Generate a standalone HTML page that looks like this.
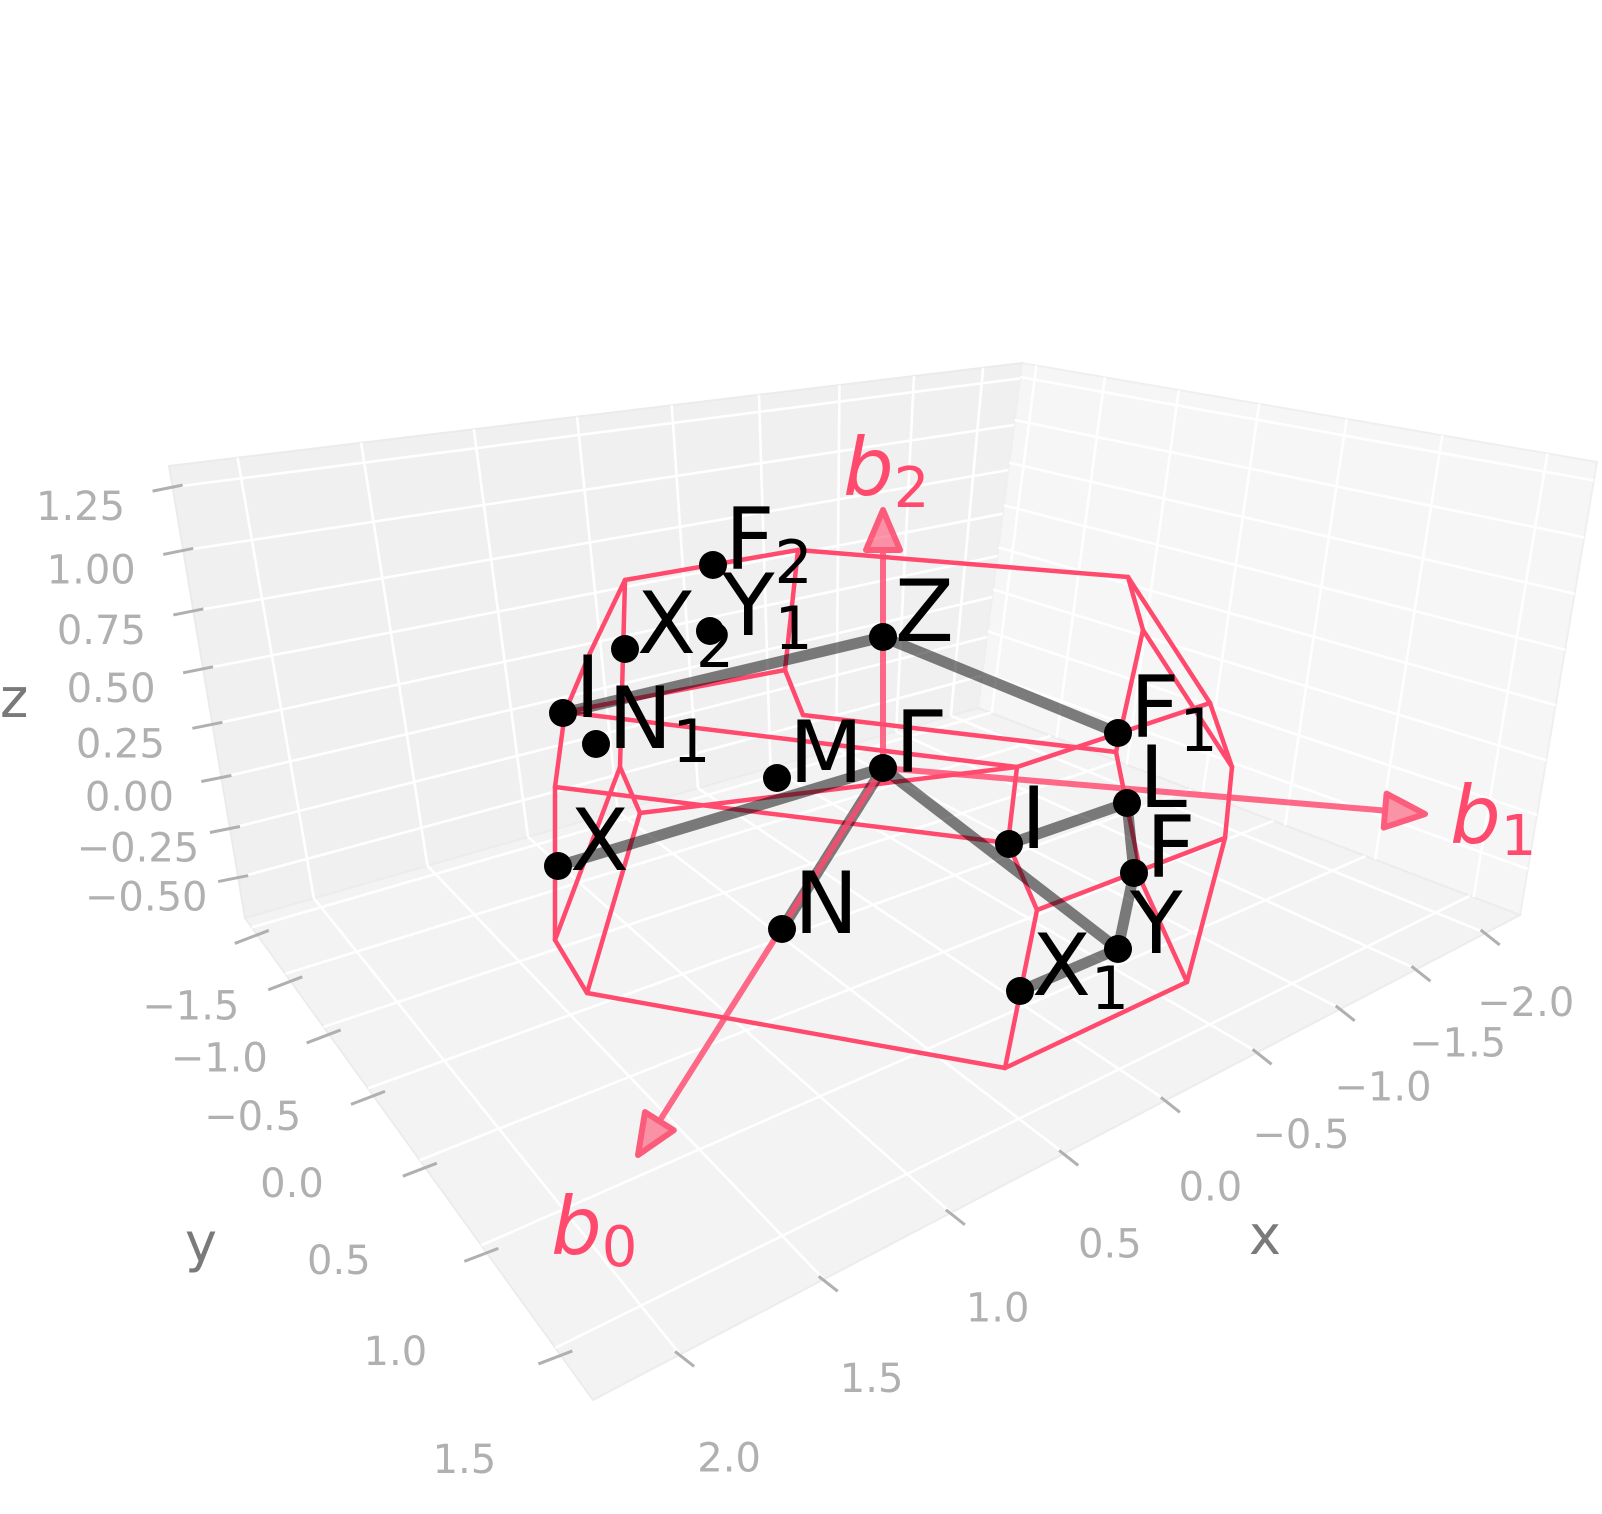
<!DOCTYPE html>
<html>
<head>
<meta charset="utf-8">
<style>
  html,body{margin:0;padding:0;background:#fff;}
  svg{display:block;}
  text{font-family:"DejaVu Sans","Liberation Sans",sans-serif;}
</style>
</head>
<body>
<svg id="chart" width="1602" height="1514" viewBox="0 0 1602 1514" xmlns="http://www.w3.org/2000/svg">
  <rect x="0" y="0" width="1602" height="1514" fill="#ffffff"/>
  <g id="panes"></g>
  <g id="grid"></g>
  <g id="ticks"></g>
  <g id="poly"></g>
  <g id="path"></g>
  <g id="arrows"></g>
  <g id="points"></g>
  <text x="1249" y="1254" font-size="54" fill="#7a7a7a">x</text>
  <text x="185" y="1261" font-size="54" fill="#7a7a7a">y</text>
  <text x="0" y="717" font-size="54" fill="#7a7a7a">z</text>
</svg>
<script>
// ---- axis data ----
const xTicks = [-2.0, -1.5, -1.0, -0.5, 0.0, 0.5, 1.0, 1.5, 2.0];
const yTicks = [-1.5, -1.0, -0.5, 0.0, 0.5, 1.0, 1.5];
const zTicks = [-0.5, -0.25, 0.0, 0.25, 0.5, 0.75, 1.0, 1.25];
const xLabels = ["\u22122.0","\u22121.5","\u22121.0","\u22120.5","0.0","0.5","1.0","1.5","2.0"];
const yLabels = ["\u22121.5","\u22121.0","\u22120.5","0.0","0.5","1.0","1.5"];
const zLabels = ["\u22120.50","\u22120.25","0.00","0.25","0.50","0.75","1.00","1.25"];
const xRange = [-2.27, 2.27];
const yRange = [-1.61, 1.72];
const zRange = [-0.714, 1.331];

// ---- projected (view-plane) data: units of the picture plane, origin at Gamma ----
const pointNames = ["Γ","Z","M","X","N","I","N","X","Y","F","F","L","I","F","Y","X"];
const pointSubs  = ["","","","","","","1","2","1","2","1","","","","","1"];
const pointU = [0, 0, -1.06, -3.25, -1.01, -3.20, -2.87, -2.58, -1.73, -1.70, 2.35, 2.44, 1.26, 2.51, 2.35, 1.37];
const pointV = [0, 1.31, -0.10, -0.98, -1.61, 0.55, 0.24, 1.19, 1.37, 2.03, 0.35, -0.35, -0.76, -1.05, -1.81, -2.23];

const vertU = [-2.58,-0.85,2.45,-2.93,-3.18,-3.28,-2.63,-2.43,-3.28,-2.96,-0.98,-0.80,2.60,3.27,3.49,3.42,3.04,1.22,1.34,1.25,1.54,2.33,2.60];
const vertV = [1.88,2.18,1.91,1.15,0.56,-0.19,0.01,-0.45,-1.72,-2.25,0.98,0.53,1.38,0.65,0.01,-0.70,-2.14,-3.00,0.01,-0.75,-1.42,0.16,-1.17];
const edgeA = [0,1,2,2,12,13,14,15,16,13,18,19,20,20,12,21,22,11,4,7,5,0,3,4,0,6,6,7,5,8,9,1,10,4];
const edgeB = [1,2,12,13,14,14,15,16,17,18,19,20,15,17,21,22,16,21,18,18,19,3,4,5,6,7,8,9,8,9,17,10,11,10];

const pathA = [5,1,3,0,0,14,14,13,11];
const pathB = [1,10,0,4,14,15,13,11,12];

const vecNames = ["0","1","2"];
const vecU = [-2.45, 5.42, 0.0];
const vecV = [-3.87, -0.46, 2.58];

// ---- scales ----
const sx = u => 883 + 100*u;
const sy = v => 768 - 100*v;
const NS = "http://www.w3.org/2000/svg";
function mk(tag, attrs, parent){
  const el = document.createElementNS(NS, tag);
  for (const k in attrs) el.setAttribute(k, attrs[k]);
  parent.appendChild(el);
  return el;
}
function makeH(p0,p1,p2,p3){
  const [x0,y0]=p0,[x1,y1]=p1,[x2,y2]=p2,[x3,y3]=p3;
  const dx1=x1-x2, dx2=x3-x2, dx3=x0-x1+x2-x3;
  const dy1=y1-y2, dy2=y3-y2, dy3=y0-y1+y2-y3;
  const den = dx1*dy2-dx2*dy1;
  const g=(dx3*dy2-dx2*dy3)/den, h=(dx1*dy3-dx3*dy1)/den;
  const a=x1-x0+g*x1, b=x3-x0+h*x3, c=x0;
  const d=y1-y0+g*y1, e=y3-y0+h*y3, f=y0;
  return (u,v)=>{const w=g*u+h*v+1; return [(a*u+b*v+c)/w,(d*u+e*v+f)/w];};
}
const B=[978,708], L=[245,918], F=[593,1400], R=[1520,915];
const TL=[169,466], TB=[1022,363], TR=[1597,462];
const Hfloor = makeH(B,L,F,R);   // u: x, v: y
const Hleft  = makeH(B,L,TL,TB); // u: x, v: z
const Hright = makeH(B,R,TR,TB); // u: y, v: z
const nx = x => (x-xRange[0])/(xRange[1]-xRange[0]);
const ny = y => (y-yRange[0])/(yRange[1]-yRange[0]);
const nz = z => (z-zRange[0])/(zRange[1]-zRange[0]);
// perspective parameter along x-direction edges (0 at x-max side, 1 at x-min side)
const tx = x => (-0.2717*x + 0.618)/(-0.103*x + 1);
const txTop = x => { const t = tx(x); return t - 0.1*t*(1-t) - 0.005; };
const lerp = (p,q,t) => [p[0]+(q[0]-p[0])*t, p[1]+(q[1]-p[1])*t];

const panes = document.getElementById('panes');
const poly = (pts)=>pts.map(p=>p[0].toFixed(1)+','+p[1].toFixed(1)).join(' ');
let el;
el = mk('polygon',{points:poly([B,L,TL,TB]),fill:'#f0f0f0',stroke:'#ebebeb','stroke-width':2},panes);


el = mk('polygon',{points:poly([B,R,TR,TB]),fill:'#f6f6f6',stroke:'#efefef','stroke-width':2},panes);


el = mk('polygon',{points:poly([B,L,F,R]),fill:'#f3f3f3',stroke:'#ececec','stroke-width':2},panes);



const grid = document.getElementById('grid');
function gl(p,q,name){
  const e = mk('line',{x1:p[0],y1:p[1],x2:q[0],y2:q[1],stroke:'#ffffff','stroke-width':2.6},grid);
  
  
}
xTicks.forEach(x=>{ const t=tx(x);
  gl(lerp(L,B,t),lerp(F,R,t),'floor-gridline-x');
  gl(lerp(L,B,t),lerp(TL,TB,txTop(x)),'wall-gridline-x'); });
yTicks.forEach(y=>{ const v=ny(y);
  gl(Hfloor(0,v),Hfloor(1,v),'floor-gridline-y');
  gl(Hright(v,0),Hright(v,1),'wall-gridline-y'); });
zTicks.forEach(z=>{ const w=nz(z);
  gl(Hleft(0,w),Hleft(1,w),'left-gridline-z');
  gl(Hright(0,w),Hright(1,w),'right-gridline-z'); });

const ticks = document.getElementById('ticks');
function tk(E,a,b,name){
  const e = mk('line',{x1:E[0]+a[0],y1:E[1]+a[1],x2:E[0]+b[0],y2:E[1]+b[1],stroke:'#b0b0b0','stroke-width':3},ticks);
  
  
}
function tl(x,y,s,name){
  const e = mk('text',{x:x,y:y,'font-size':40,fill:'#b0b0b0','text-anchor':'middle'},ticks);
  e.textContent = s;
  
  
}
xTicks.forEach((x,i)=>{ const E=lerp(F,R,tx(x));
  tk(E,[-5,-3],[14,12],'x-tick');
  const s=(x-2)/(-4); const ox=49+s*(40-49), oy=117+s*(83-117);
  tl(E[0]+ox,E[1]+oy,xLabels[i],'x-tick-label'); });
yTicks.forEach((y,i)=>{ const E=Hfloor(1,ny(y));
  tk(E,[-17,16],[17,3],'y-tick');
  const s=(y+1.5)/3; const ox=-61+s*(-91+61), oy=92+s*(125-92);
  tl(E[0]+ox,E[1]+oy,yLabels[i],'y-tick-label'); });
zTicks.forEach((z,i)=>{ const E=Hleft(1,nz(z));
  tk(E,[-20,4],[10,-2],'z-tick');
  tl(E[0]-92,E[1]+33,zLabels[i],'z-tick-label'); });

// ---- BZ edges ----
const RED = '#ff4a6e';
const pg = document.getElementById('poly');
edgeA.forEach((a,i)=>{ const b=edgeB[i];
  const e = mk('line',{x1:sx(vertU[a]),y1:sy(vertV[a]),x2:sx(vertU[b]),y2:sy(vertV[b]),stroke:RED,'stroke-width':4.5,'stroke-linecap':'round'},pg);
  
  
});
// ---- k-path ----
const pp = document.getElementById('path');
pathA.forEach((a,i)=>{ const b=pathB[i];
  const e = mk('line',{x1:sx(pointU[a]),y1:sy(pointV[a]),x2:sx(pointU[b]),y2:sy(pointV[b]),stroke:'#000','stroke-opacity':0.5,'stroke-width':11},pp);
  
  
});
// ---- arrows ----
const ag = document.getElementById('arrows');
const labelPos = [[551,1254],[1450,843],[843,495]];
vecU.forEach((u,i)=>{
  const x0=sx(0), y0=sy(0), x1=sx(u), y1=sy(vecV[i]);
  const dx=x1-x0, dy=y1-y0, len=Math.hypot(dx,dy), ux=dx/len, uy=dy/len;
  const bx=x1-ux*40, by=y1-uy*40;
  const g = mk('g',{opacity:0.82},ag);
  
  
  mk('line',{x1:x0,y1:y0,x2:bx,y2:by,stroke:RED,'stroke-width':6},g);
  mk('polygon',{points:[[x1,y1],[bx-uy*17,by+ux*17],[bx+uy*17,by-ux*17]].map(p=>p.join(',')).join(' '),fill:RED,'fill-opacity':0.7,stroke:'#ff3c62','stroke-width':6,'stroke-linejoin':'round'},g);
  const t = mk('text',{x:labelPos[i][0],y:labelPos[i][1],'font-size':80,'font-style':'italic',fill:RED},ag);
  
  
  t.textContent='b';
  const s = mk('tspan',{'font-size':56,dy:12,'font-style':'normal'},t);
  s.textContent=vecNames[i];
});
// ---- points ----
const pts = document.getElementById('points');
pointU.forEach((u,i)=>{
  const cx=sx(u), cy=sy(pointV[i]);
  const c = mk('circle',{cx:cx,cy:cy,r:14,fill:'#000'},pts);
  
  
  const t = mk('text',{x:cx+12,y:cy+4,'font-size':86,fill:'#000'},pts);
  
  
  t.textContent = pointNames[i];
  if (pointSubs[i]) { const s = mk('tspan',{'font-size':60,dy:14},t); s.textContent=pointSubs[i]; }
});
</script>
</body>
</html>
